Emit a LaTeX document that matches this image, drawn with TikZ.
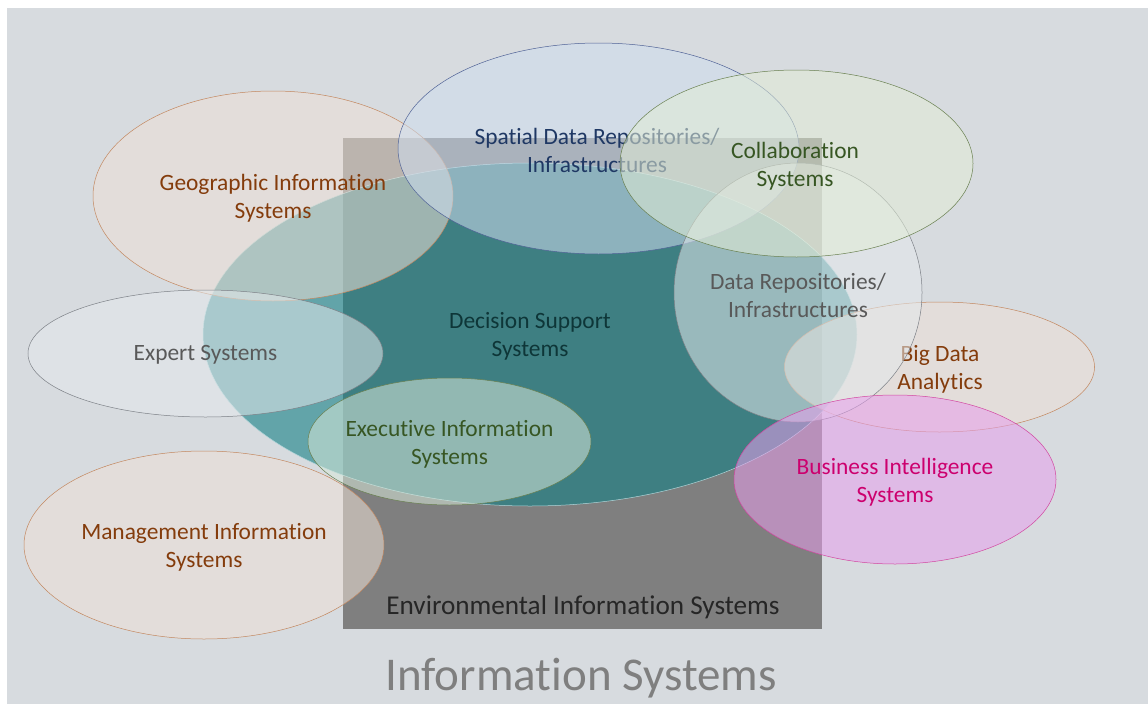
\documentclass[tikz,border=0pt]{standalone}
\usepackage{fontspec}
\setmainfont{Carlito}[Ligatures=NoCommon]
\usetikzlibrary{shapes.geometric}
\definecolor{bgc}{RGB}{215,219,223}
\definecolor{rectc}{RGB}{127,127,127}
\definecolor{dssc}{RGB}{20,128,133}
\definecolor{dssb}{RGB}{175,212,216}
\definecolor{dsst}{RGB}{14,54,56}
\definecolor{tanc}{RGB}{238,224,214}
\definecolor{tanb}{RGB}{195,135,95}
\definecolor{brownt}{RGB}{132,60,12}
\definecolor{bluec}{RGB}{206,221,239}
\definecolor{blueb}{RGB}{80,98,150}
\definecolor{navyt}{RGB}{31,56,100}
\definecolor{greenc}{RGB}{226,237,214}
\definecolor{greenb}{RGB}{105,128,80}
\definecolor{greent}{RGB}{55,86,35}
\definecolor{greyc}{RGB}{228,233,236}
\definecolor{greyb}{RGB}{125,129,135}
\definecolor{greyt}{RGB}{89,89,89}
\definecolor{execc}{RGB}{216,232,218}
\definecolor{pinkc}{RGB}{231,159,236}
\definecolor{pinkb}{RGB}{210,70,160}
\definecolor{pinkt}{RGB}{204,0,110}
\definecolor{envt}{RGB}{38,38,38}
\definecolor{ist}{RGB}{127,127,127}
\begin{document}
\begin{tikzpicture}[x=1pt,y=-1pt,
  ell/.style={ellipse, inner sep=0pt, line width=0.5pt, fill opacity=0.55},
  lbl/.style={align=center, font=\fontsize{23.4}{28}\selectfont, inner sep=0pt}]
\useasboundingbox (0,0) rectangle (1148,704);
\fill[bgc] (7,8) rectangle (1148,704);
% Environmental Information Systems box
\node[fill=rectc, minimum width=479pt, minimum height=491pt, inner sep=0pt, anchor=north west] (eis) at (343,138) {};
% Decision Support Systems
\node[ell, fill=dssc, draw=dssb, fill opacity=0.6, minimum width=654pt, minimum height=343pt] (dss) at (530,334.5) {};
\node[lbl, text=dsst] (dsstxt) at (530,336.5) {Decision Support\\Systems};
% Geographic Information Systems
\node[ell, fill=tanc, draw=tanb, minimum width=360pt, minimum height=210pt] (gis) at (273,196) {};
\node[lbl, text=brownt] (gistxt) at (273,198) {Geographic Information\\Systems};
% Spatial Data Repositories
\node[ell, fill=bluec, draw=blueb, minimum width=401pt, minimum height=211pt] (sdi) at (598.5,148.5) {};
\node[lbl, text=navyt] (sditxt) at (597,150) {Spatial Data Repositories/\\Infrastructures};
% Big Data Analytics
\node[ell, fill=tanc, draw=tanb, minimum width=310pt, minimum height=130pt] (bda) at (939.5,367) {};
\node[lbl, text=brownt] (bdatxt) at (940,369) {Big Data\\Analytics};
% Data Repositories
\node[ell, fill=greyc, draw=greyb, minimum width=248pt, minimum height=259pt] (dri) at (798,292.5) {};
\node[lbl, text=greyt] (dritxt) at (798,295) {Data Repositories/\\Infrastructures};
% Collaboration Systems
\node[ell, fill=greenc, draw=greenb, minimum width=353pt, minimum height=187pt] (col) at (796.5,163.5) {};
\node[lbl, text=greent] (coltxt) at (795,166) {Collaboration\\Systems};
% Expert Systems
\node[ell, fill=greyc, draw=greyb, minimum width=355pt, minimum height=127pt] (exs) at (205.5,353.5) {};
\node[lbl, text=greyt] (exstxt) at (205.5,355) {Expert Systems};
% Executive Information Systems
\node[ell, fill=execc, draw=greenb, minimum width=283pt, minimum height=127pt] (exe) at (449.5,441.5) {};
\node[lbl, text=greent] (exetxt) at (449.5,444) {Executive Information\\Systems};
% Management Information Systems
\node[ell, fill=tanc, draw=tanb, minimum width=360pt, minimum height=188pt] (mis) at (204,545) {};
\node[lbl, text=brownt] (mistxt) at (204,547) {Management Information\\Systems};
% Business Intelligence Systems
\node[ell, fill=pinkc, draw=pinkb, minimum width=322pt, minimum height=169pt] (bis) at (895,479.5) {};
\node[lbl, text=pinkt] (bistxt) at (895,482) {Business Intelligence\\Systems};
% labels
\node[lbl, font=\fontsize{27.2}{32}\selectfont, text=envt] (eistxt) at (583,607) {Environmental Information Systems};
\node[lbl, font=\fontsize{47}{54}\selectfont, text=ist] (istxt) at (581,678) {Information Systems};
\end{tikzpicture}
\end{document}
